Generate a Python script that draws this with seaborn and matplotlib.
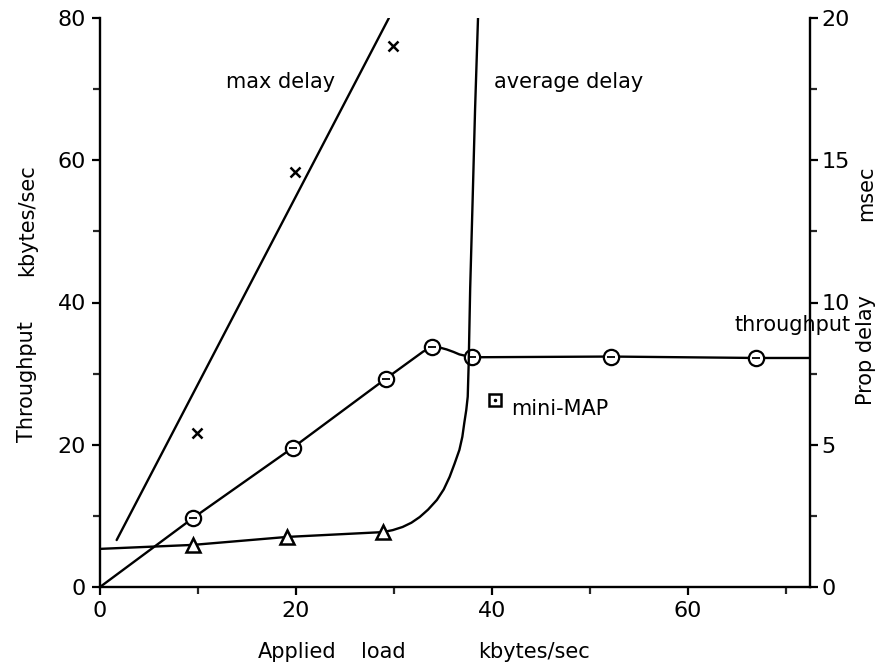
import matplotlib
matplotlib.use("Agg")
import matplotlib.pyplot as plt
import seaborn as sns
import pandas as pd
import numpy as np
from matplotlib.ticker import MultipleLocator

sns.set_theme(style="white")
plt.rcParams['font.family'] = ['DejaVu Sans']

# ---- data ----
# throughput curve (left axis, kbytes/sec)
thr_line_x = [0, 9.5, 19.7, 29.2, 31.6, 33.0, 33.9, 34.6, 35.4, 36.1, 36.7, 38.0, 52.2, 67.0, 72.5]
thr_line_y = [0, 9.7, 19.6, 29.3, 31.7, 33.1, 33.7, 33.7, 33.4, 33.05, 32.7, 32.3, 32.4, 32.2, 32.2]
thr_pts_x = [9.5, 19.7, 29.2, 33.9, 38.0, 52.2, 67.0]
thr_pts_y = [9.7, 19.6, 29.3, 33.7, 32.3, 32.4, 32.2]

# average delay curve (right axis, msec)
avg_line_x = [0, 9.5, 19.1, 28.9, 29.9, 30.9, 31.8, 32.65, 33.5, 34.4, 35.1, 35.7, 36.2,
              36.7, 37.0, 37.2, 37.4, 37.55, 37.65, 37.8, 38.05, 38.3, 38.6]
avg_line_y = [1.34, 1.48, 1.76, 1.93, 2.0, 2.11, 2.26, 2.46, 2.72, 3.06, 3.43, 3.87, 4.33,
              4.82, 5.28, 5.77, 6.22, 6.69, 7.89, 10.5, 13.6, 16.8, 20.0]
avg_pts_x = [9.5, 19.1, 28.9]
avg_pts_y = [1.48, 1.76, 1.93]

# max delay (right axis, msec)
max_line_x = [1.7, 29.5]
max_line_y = [1.65, 20.0]
max_pts_x = [9.9, 19.9, 29.9]
max_pts_y = [5.4, 14.6, 19.0]

# mini-MAP point (left axis)
mini_x = [40.3]
mini_y = [26.3]

x_ticks = [0, 20, 40, 60]
y_left_ticks = [0, 20, 40, 60, 80]
y_right_ticks = [0, 5, 10, 15, 20]

# ---- figure ----
fig = plt.figure(figsize=(8.92, 6.72), dpi=100)
ax = fig.add_axes([100/892, 1 - 587/672, 710/892, 569/672])
ax2 = ax.twinx()

lw = 1.7
k = 'black'

thr_line = pd.DataFrame({'x': thr_line_x, 'y': thr_line_y})
sns.lineplot(data=thr_line, x='x', y='y', sort=False, ax=ax, color=k, lw=lw, estimator=None)
ax.plot(thr_pts_x, thr_pts_y, 'o', mfc='white', mec=k, mew=1.6, ms=11, ls='none')
ax.plot(thr_pts_x, thr_pts_y, '_', color=k, ms=6, mew=1.3, ls='none')
ax.plot(mini_x, mini_y, 's', mfc='white', mec=k, mew=1.8, ms=9, ls='none')
ax.plot(mini_x, mini_y, '.', color=k, ms=3, ls='none')

avg_line = pd.DataFrame({'x': avg_line_x, 'y': avg_line_y})
sns.lineplot(data=avg_line, x='x', y='y', sort=False, ax=ax2, color=k, lw=lw, estimator=None)
ax2.plot(avg_pts_x, avg_pts_y, '^', mfc='white', mec=k, mew=1.8, ms=10, ls='none')

max_line = pd.DataFrame({'x': max_line_x, 'y': max_line_y})
sns.lineplot(data=max_line, x='x', y='y', sort=False, ax=ax2, color=k, lw=lw, estimator=None)
ax2.plot(max_pts_x, max_pts_y, 'x', color=k, mew=1.8, ms=7, ls='none')

# axes formatting
ax.set_xlim(0, 72.5)
ax.set_ylim(0, 80)
ax2.set_ylim(0, 20)
ax.set_xticks(x_ticks)
ax.set_yticks(y_left_ticks)
ax2.set_yticks(y_right_ticks)
ax.xaxis.set_minor_locator(MultipleLocator(10))
ax.yaxis.set_minor_locator(MultipleLocator(10))
ax2.yaxis.set_minor_locator(MultipleLocator(2.5))
ax.set_xlabel('')
ax.set_ylabel('')
ax2.set_ylabel('')

for a in (ax, ax2):
    a.spines['top'].set_visible(False)
    for s in a.spines.values():
        s.set_linewidth(1.7)
        s.set_color(k)
ax.spines['right'].set_visible(False)
ax2.spines['left'].set_visible(False)
ax2.spines['bottom'].set_visible(False)

ax.tick_params(axis='both', which='major', direction='out', length=6, width=1.6,
               labelsize=16, colors=k, pad=4, left=True, bottom=True)
ax.tick_params(axis='both', which='minor', direction='out', length=5, width=1.6,
               left=True, bottom=True)
ax2.tick_params(axis='y', which='major', direction='out', length=6, width=1.6,
                labelsize=16, colors=k, pad=2, right=True)
ax2.tick_params(axis='y', which='minor', direction='out', length=5, width=1.6, right=True)

# annotations
fs = 15
ax.text(12.9, 71, 'max delay', fontsize=fs, color=k, ha='left', va='center')
ax.text(40.2, 71, 'average delay', fontsize=fs, color=k, ha='left', va='center')
ax.text(64.8, 36.8, 'throughput', fontsize=fs, color=k, ha='left', va='center')
ax.text(42.0, 25.0, 'mini-MAP', fontsize=fs, color=k, ha='left', va='center')

def ftxt(px, py, s, rot=0):
    fig.text(px/892, 1 - py/672, s, fontsize=fs, color=k, ha='center', va='center', rotation=rot)

ftxt(27, 382, 'Throughput', 90)
ftxt(27, 220, 'kbytes/sec', 90)
ftxt(866, 350, 'Prop delay', 90)
ftxt(866, 193, 'msec', 90)
ftxt(297, 652, 'Applied')
ftxt(383, 652, 'load')
ftxt(534, 652, 'kbytes/sec')

fig.savefig('out.png', dpi=100)
